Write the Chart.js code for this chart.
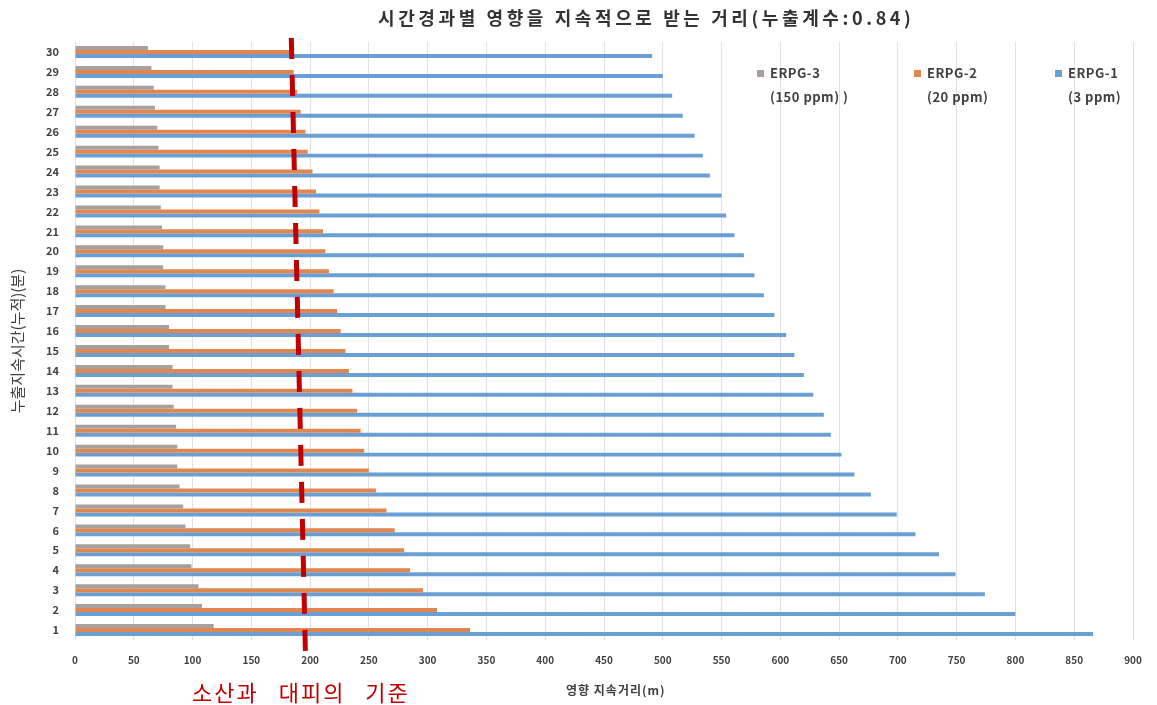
<!DOCTYPE html>
<html>
<head>
<meta charset="utf-8">
<script src="https://cdn.jsdelivr.net/npm/chart.js@4.4.1/dist/chart.umd.min.js"></script>
<style>
  body { margin: 0; background: #fff; font-family: "Noto Sans CJK KR", "Noto Sans", sans-serif; }
  #wrap { position: relative; width: 1157px; height: 705px; }
  #title { position: absolute; left: 378px; top: 4px; font-size: 18px; font-weight: bold; color: #333; letter-spacing: 3.6px; white-space: nowrap; }
  .leg { position: absolute; top: 61px; font-size: 13px; font-weight: bold; color: #404040; line-height: 24px; letter-spacing: 0.5px; white-space: nowrap; }
  .leg i { position: absolute; left: -13px; top: 9px; width: 7px; height: 7px; }
  #xtitle { position: absolute; left: 566px; top: 681px; font-size: 12px; font-weight: bold; color: #404040; letter-spacing: 1px; white-space: nowrap; }
  #criterion { position: absolute; left: 192px; top: 675px; font-size: 22px; color: #c00000; letter-spacing: 2px; word-spacing: 13px; white-space: nowrap; }
</style>
</head>
<body>
<div id="wrap">
  <canvas id="chart" width="1157" height="705"></canvas>
  <div id="title">시간경과별 영향을 지속적으로 받는 거리(누출계수:0.84)</div>
  <div class="leg" style="left:770px"><i style="background:#a8a09c"></i>ERPG-3<br>(150 ppm) )</div>
  <div class="leg" style="left:927px"><i style="background:#e0864e"></i>ERPG-2<br>(20 ppm)</div>
  <div class="leg" style="left:1068px"><i style="background:#6a9fd6"></i>ERPG-1<br>(3 ppm)</div>
  <div id="xtitle">영향 지속거리(m)</div>
  <div id="criterion">소산과 대피의 기준</div>
</div>
<script>
// 누출지속시간 (분), bottom to top
const minutes = ['1','2','3','4','5','6','7','8','9','10','11','12','13','14','15',
                 '16','17','18','19','20','21','22','23','24','25','26','27','28','29','30'];
// 영향 지속거리 (m)
const erpg3 = [118,108,105,99,98,94,92,89,87,87,86,84,83,83,80,80,77,77,75,75,74,73,72,72,71,70,68,67,65,62];
const erpg2 = [336,308,296,285,280,272,265,256,250,246,243,240,236,233,230,226,223,220,216,213,211,208,205,202,198,196,192,189,186,183];
const erpg1 = [866,800,774,749,735,715,699,677,663,652,643,637,628,620,612,605,595,586,578,569,561,554,550,540,534,527,517,508,500,491];
// 소산과 대피의 기준 line (hand drawn, slightly slanted: top value, bottom value)
const criterionLine = [184, 196];
const xTicks = [0,50,100,150,200,250,300,350,400,450,500,550,600,650,700,750,800,850,900];

const tickFont = { family: '"Noto Sans CJK KR", sans-serif', size: 10, weight: 'bold' };

// red dashed criterion line drawn over the bars
const criterionPlugin = {
  id: 'criterion',
  afterDatasetsDraw(chart) {
    const { ctx, chartArea } = chart;
    const x = chart.scales.x;
    const y0 = chartArea.top - 4, y1 = chartArea.bottom + 12;
    ctx.save();
    ctx.strokeStyle = '#c00000';
    ctx.lineWidth = 5;
    ctx.setLineDash([21, 16]);
    ctx.beginPath();
    ctx.moveTo(x.getPixelForValue(criterionLine[0]), y0);
    ctx.lineTo(x.getPixelForValue(criterionLine[1]), y1);
    ctx.stroke();
    ctx.restore();
  }
};

new Chart(document.getElementById('chart'), {
  type: 'bar',
  data: {
    labels: minutes,
    datasets: [
      { label: 'ERPG-3 (150 ppm) )', data: erpg3, backgroundColor: '#a8a09c' },
      { label: 'ERPG-2 (20 ppm)', data: erpg2, backgroundColor: '#e0864e' },
      { label: 'ERPG-1 (3 ppm)', data: erpg1, backgroundColor: '#6a9fd6' }
    ]
  },
  options: {
    indexAxis: 'y',
    responsive: false,
    animation: false,
    categoryPercentage: 0.6,
    barPercentage: 1.0,
    layout: { padding: { top: 42, right: 24, bottom: 0, left: 0 } },
    plugins: {
      legend: { display: false },
      tooltip: { enabled: false }
    },
    scales: {
      x: {
        min: 0, max: 900,
        afterBuildTicks: (s) => { s.ticks = xTicks.map(v => ({ value: v })); },
        afterFit: (s) => { s.height = 65; },
        grid: { color: '#e2e2e2', drawTicks: false },
        border: { display: false },
        ticks: { padding: 14, color: '#404040', font: tickFont }
      },
      y: {
        reverse: true,
        afterFit: (s) => { s.width = 75; },
        grid: { display: false },
        border: { display: false },
        ticks: { padding: 8, color: '#404040', font: { family: '"Noto Sans CJK KR", sans-serif', size: 11, weight: 'bold' } },
        title: {
          display: true, text: '누출지속시간(누적)(분)', color: '#404040',
          font: { family: '"Noto Sans CJK KR", sans-serif', size: 15 },
          padding: { top: 8, bottom: 0 }
        }
      }
    }
  },
  plugins: [criterionPlugin]
});
</script>
</body>
</html>
